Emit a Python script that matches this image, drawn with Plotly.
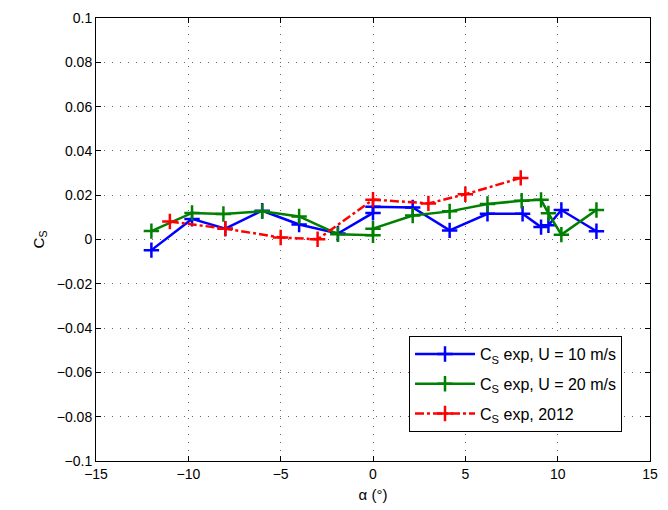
import plotly.graph_objects as go

# Data
blue_x = [-12, -9.8, -8, -6, -4, -1.9, 0, 0, 2.15, 4.15, 6.2, 8.1, 9.1, 9.5, 10.2, 12.1]
blue_y = [-0.0048, 0.0093, 0.0049, 0.013, 0.0068, 0.0027, 0.012, 0.0148, 0.0145, 0.0041, 0.0116, 0.0116, 0.0056, 0.0064, 0.0133, 0.0037]

green_x = [-12, -9.8, -8.1, -6, -4, -1.9, 0, 0, 2.15, 4.15, 6.2, 8.05, 9.1, 9.5, 10.2, 12.1]
green_y = [0.0038, 0.012, 0.0115, 0.0127, 0.0104, 0.0024, 0.0019, 0.0049, 0.0108, 0.0127, 0.016, 0.0175, 0.0179, 0.0118, 0.0022, 0.0133]

red_x = [-11, -8, -5, -3, 0, 3, 5, 8]
red_y = [0.0081, 0.0049, 0.0009, 0.0001, 0.0180, 0.0163, 0.0204, 0.0278]

x_ticks = [-15, -10, -5, 0, 5, 10, 15]
y_ticks = [-0.1, -0.08, -0.06, -0.04, -0.02, 0, 0.02, 0.04, 0.06, 0.08, 0.1]
y_tick_text = ["\u22120.1", "\u22120.08", "\u22120.06", "\u22120.04", "\u22120.02", "0",
               "0.02", "0.04", "0.06", "0.08", "0.1"]
x_tick_text = ["\u221215", "\u221210", "\u22125", "0", "5", "10", "15"]

series = [
    (blue_x, blue_y, "C<sub>S</sub> exp, U = 10 m/s", "#0000ff", "solid"),
    (green_x, green_y, "C<sub>S</sub> exp, U = 20 m/s", "#008000", "solid"),
    (red_x, red_y, "C<sub>S</sub> exp, 2012", "#ff0000", "dashdot"),
]

fig = go.Figure()
for i, (xs, ys, name, col, dash) in enumerate(series):
    fig.add_trace(go.Scatter(
        x=xs, y=ys, name=name, mode="lines+markers", legendgroup=f"g{i}",
        line=dict(color=col, width=2.5, dash=dash),
        marker=dict(symbol="cross-thin", size=11, line=dict(color=col, width=2.5)),
    ))

FAM = "Liberation Sans, Arial, sans-serif"
font = dict(family=FAM, size=14, color="black")
fig.update_layout(
    width=668, height=510,
    margin=dict(l=96, r=10, t=16, b=49),
    paper_bgcolor="white", plot_bgcolor="white",
    font=font,
    showlegend=True,
    legend=dict(
        x=0.565, y=0.282, xanchor="left", yanchor="top",
        bordercolor="black", borderwidth=1, bgcolor="white",
        font=dict(family=FAM, size=16, color="black"),
        itemwidth=60, tracegroupgap=6,
    ),
)
fig.update_xaxes(
    range=[-15, 15], tickvals=x_ticks, ticktext=x_tick_text,
    showline=True, linecolor="black", linewidth=1, mirror="ticks",
    ticks="inside", ticklen=5, tickcolor="black",
    showgrid=True, gridcolor="#666666", griddash="1px,7px", gridwidth=1,
    zeroline=False,
    title=dict(text="\u03b1 (\u00b0)", standoff=8, font=dict(size=15)),
)
fig.update_yaxes(
    range=[-0.1, 0.1], tickvals=y_ticks, ticktext=y_tick_text,
    showline=True, linecolor="black", linewidth=1, mirror="ticks",
    ticks="inside", ticklen=5, tickcolor="black",
    showgrid=True, gridcolor="#666666", griddash="1px,7px", gridwidth=1,
    zeroline=False,
    title=dict(text="C<sub>S</sub>", standoff=8, font=dict(size=15)),
)

fig.write_html("out.html")
